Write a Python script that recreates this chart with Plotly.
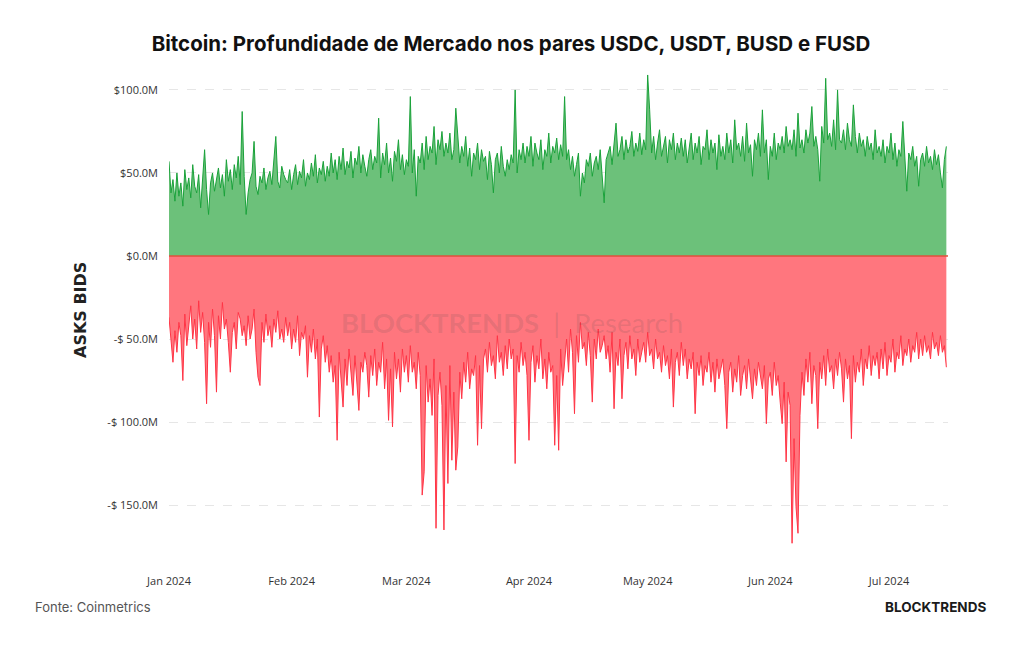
import pandas as pd
import plotly.graph_objects as go

# 12-hourly samples from 2024-01-01
start = "2024-01-01 00:00"

asks_m = [
    57, 38, 46, 33, 50, 36, 44, 30, 52, 40, 47, 35, 55, 42, 38, 49, 29, 45, 64, 40,
    25, 44, 50, 39, 47, 53, 41, 49, 36, 58, 45, 52, 40, 55, 47, 60, 43, 87, 48, 25,
    38, 46, 50, 69, 42, 37, 48, 44, 53, 40, 47, 51, 43, 56, 72, 45, 41, 54, 49, 46,
    44, 52, 40, 49, 55, 43, 51, 47, 58, 42, 50, 46, 56, 48, 61, 44, 53, 49, 57, 45,
    54, 48, 62, 50, 58, 46, 60, 52, 65, 49, 57, 53, 63, 47, 59, 55, 66, 50, 61, 54,
    48, 58, 64, 52, 60, 56, 83, 47, 62, 55, 68, 50, 59, 45, 63, 57, 70, 52, 61, 49,
    58, 54, 96, 50, 64, 36, 60, 56, 68, 52, 72, 58, 66, 62, 78, 55, 70, 64, 75, 60,
    68, 62, 74, 58, 64, 89, 70, 56, 66, 60, 72, 54, 65, 48, 62, 58, 68, 52, 64, 57,
    60, 46, 63, 55, 38, 58, 62, 50, 66, 54, 48, 58, 52, 61, 56, 100, 50, 64, 58, 68,
    56, 66, 60, 72, 54, 68, 62, 58, 70, 52, 64, 60, 74, 56, 66, 62, 71, 58, 67, 60,
    96, 58, 64, 52, 60, 48, 55, 62, 36, 50, 44, 58, 54, 62, 48, 56, 60, 52, 64, 50,
    32, 58, 62, 66, 55, 68, 80, 60, 64, 72, 58, 70, 62, 66, 75, 60, 68, 63, 74, 61,
    70, 64, 109, 88, 62, 72, 58, 68, 76, 60, 66, 72, 56, 70, 64, 74, 58, 68, 62, 71,
    60, 70, 56, 66, 74, 58, 68, 62, 72, 55, 66, 64, 76, 58, 70, 62, 68, 52, 73, 60,
    66, 58, 74, 62, 70, 56, 82, 64, 68, 60, 72, 57, 80, 62, 67, 48, 70, 64, 74, 60,
    88, 62, 70, 46, 66, 60, 74, 58, 68, 64, 72, 62, 78, 66, 70, 64, 76, 60, 86, 65,
    70, 62, 76, 68, 74, 90, 66, 72, 64, 45, 78, 68, 107, 70, 74, 66, 82, 64, 100, 70,
    68, 76, 64, 80, 70, 66, 91, 72, 62, 74, 66, 70, 60, 72, 64, 68, 58, 76, 62, 66,
    60, 70, 56, 66, 62, 74, 58, 68, 54, 64, 60, 81, 56, 39, 62, 58, 66, 54, 60, 42,
    58, 62, 54, 66, 56, 60, 52, 64, 55, 61, 50, 41, 58, 66,
]

bids_m = [
    -37, -52, -64, -45, -58, -40, -48, -75, -35, -54, -42, -30, -50, -38, -56, -27, -46, -34, -52, -89,
    -40, -55, -32, -48, -82, -36, -50, -28, -44, -38, -52, -70, -46, -40, -56, -34, -38, -48, -42, -54,
    -36, -50, -44, -32, -58, -73, -78, -40, -52, -35, -48, -42, -55, -38, -46, -33, -50, -44, -52, -37,
    -48, -40, -56, -44, -52, -36, -60, -46, -50, -42, -73, -48, -58, -44, -62, -50, -97, -56, -48, -64,
    -54, -70, -60, -76, -66, -111, -58, -72, -91, -62, -78, -56, -68, -84, -60, -74, -93, -64, -70, -58,
    -66, -85, -60, -72, -56, -78, -64, -70, -52, -80, -62, -99, -68, -103, -58, -74, -62, -82, -56, -70,
    -60, -76, -54, -70, -64, -80, -58, -72, -144, -130, -66, -88, -74, -96, -62, -164, -84, -70, -90, -165,
    -78, -137, -66, -123, -82, -129, -115, -70, -86, -64, -76, -58, -80, -68, -72, -60, -114, -66, -104, -62,
    -56, -70, -52, -66, -60, -74, -48, -64, -58, -72, -54, -68, -50, -62, -56, -125, -60, -70, -52, -66,
    -58, -72, -111, -64, -54, -76, -60, -68, -50, -74, -62, -80, -58, -70, -66, -114, -72, -117, -56, -78,
    -62, -50, -70, -44, -58, -95, -48, -64, -40, -56, -52, -66, -46, -60, -88, -50, -62, -44, -58, -54,
    -48, -62, -54, -70, -46, -92, -58, -66, -50, -86, -60, -52, -68, -48, -62, -56, -72, -50, -64, -58,
    -52, -64, -46, -60, -56, -68, -50, -62, -58, -70, -54, -66, -60, -74, -56, -91, -64, -58, -72, -52,
    -66, -56, -74, -62, -68, -58, -95, -64, -72, -60, -78, -66, -70, -58, -76, -64, -82, -62, -74, -68,
    -62, -78, -104, -70, -64, -82, -68, -76, -60, -84, -72, -66, -80, -62, -74, -86, -68, -78, -64, -72,
    -80, -66, -101, -74, -70, -84, -64, -78, -72, -88, -101, -76, -124, -82, -90, -173, -110, -151, -167, -96,
    -70, -84, -62, -76, -58, -89, -66, -72, -104, -64, -74, -60, -78, -56, -70, -66, -80, -62, -72, -58,
    -68, -88, -62, -74, -66, -110, -60, -76, -64, -70, -56, -78, -62, -68, -54, -72, -60, -66, -58, -74,
    -56, -68, -52, -72, -60, -64, -50, -70, -58, -62, -48, -66, -56, -60, -50, -64, -54, -58, -46, -62,
    -50, -60, -48, -58, -54, -62, -46, -56, -52, -60, -48, -58, -54, -67,
]

y_tick_vals = [100, 50, 0, -50, -100, -150]
y_tick_text = ["$100.0M", "$50.0M", "$0.0M", "-$ 50.0M", "-$ 100.0M", "-$ 150.0M"]

dates = pd.date_range(start, periods=len(asks_m), freq="12h")

fig = go.Figure()
fig.add_trace(go.Scatter(
    x=dates, y=asks_m, mode="lines", fill="tozeroy",
    line=dict(color="#1aa23a", width=1), fillcolor="#6cc17a",
    hoverinfo="skip", showlegend=False,
))
fig.add_trace(go.Scatter(
    x=dates, y=bids_m, mode="lines", fill="tozeroy",
    line=dict(color="#ff3445", width=1), fillcolor="#ff767e",
    hoverinfo="skip", showlegend=False,
))

fig.update_layout(
    width=1024, height=645,
    margin=dict(l=169, r=76, t=70, b=80),
    paper_bgcolor="white", plot_bgcolor="white",
    font=dict(family="Open Sans, DejaVu Sans, sans-serif", color="#333", size=11),
    title=dict(
        text="<b>Bitcoin: Profundidade de Mercado nos pares USDC, USDT, BUSD e FUSD</b>",
        x=511 / 1024, xanchor="center",
        y=1 - 44 / 645, yanchor="middle",
        font=dict(family="Inter, Roboto, sans-serif", size=20.5, color="#111"),
    ),
    xaxis=dict(
        type="date", range=["2024-01-01", "2024-07-15 22:00"],
        dtick="M1", tick0="2024-01-01", tickformat="%b %Y",
        showgrid=False, zeroline=False, showline=False,
        ticks="", ticklabelstandoff=8,
        tickfont=dict(size=11, color="#333"),
    ),
    yaxis=dict(
        range=[-186.1, 112.0],
        tickvals=y_tick_vals, ticktext=y_tick_text,
        showgrid=True, gridcolor="#e6e6e6", griddash="dash", gridwidth=1,
        zeroline=False,
        showline=False, ticks="", ticklabelstandoff=10,
        tickfont=dict(size=11, color="#333"),
    ),
    shapes=[dict(type="line", xref="paper", yref="y", x0=0, x1=1, y0=0, y1=0,
                 line=dict(color="#e0503c", width=1.5), layer="above")],
)

fig.add_annotation(
    xref="paper", yref="paper", x=(80 - 169) / 779, y=(565 - 310) / 495,
    text="<b>ASKS BIDS</b>", showarrow=False, textangle=-90,
    xanchor="center", yanchor="middle",
    font=dict(family="DejaVu Sans, sans-serif", size=16, color="#222"),
)
fig.add_annotation(
    xref="paper", yref="paper", x=(512 - 169) / 779, y=(565 - 322) / 495,
    text="<b>BLOCKTRENDS</b>  |  Research", showarrow=False,
    font=dict(family="Lato, sans-serif", size=27.5, color="rgba(70,70,70,0.14)"),
    xanchor="center", yanchor="middle",
)
fig.add_annotation(
    xref="paper", yref="paper", x=(33 - 169) / 779, y=-(607 - 565) / 495,
    text="Fonte: Coinmetrics", showarrow=False, xanchor="left", yanchor="middle",
    font=dict(family="Inter, sans-serif", size=13, color="#555"),
)
fig.add_annotation(
    xref="paper", yref="paper", x=(988 - 169) / 779, y=-(607 - 565) / 495,
    text="<b>BLOCKTRENDS</b>", showarrow=False, xanchor="right", yanchor="middle",
    font=dict(family="Inter, sans-serif", size=13.5, color="#1a1a1a", weight=800),
)

fig.write_html("out.html")
